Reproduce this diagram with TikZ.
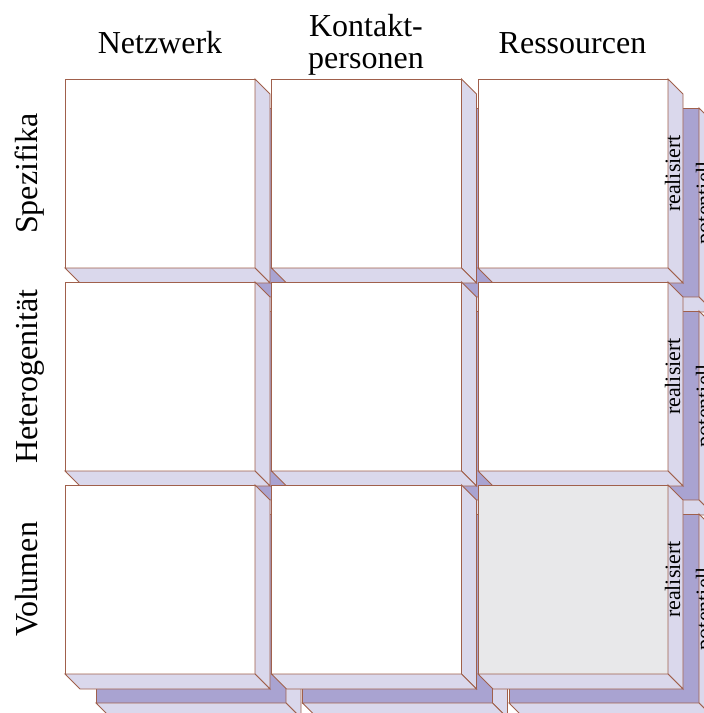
\documentclass[tikz,border=0pt]{standalone}
\usepackage{fontspec}
\setmainfont{Liberation Serif}

\definecolor{edge}{HTML}{A0604C}
\definecolor{sidefc}{HTML}{DAD8EC}
\definecolor{backfc}{HTML}{A9A3D1}
\definecolor{greyfc}{HTML}{E8E8EA}

\tikzset{
  edgeline/.style={draw=edge, line width=0.9pt, line join=miter},
  sideface/.style={edgeline, fill=sidefc},
  head/.style={font=\fontsize{32}{32}\selectfont, inner sep=0pt, anchor=base},
  rowhead/.style={head, rotate=90},
  layerlabel/.style={font=\fontsize{22}{22}\selectfont, inner sep=0pt, anchor=base, rotate=90},
}

% One slab: front face as a named node, right and bottom faces drawn from its anchors.
% #1 name, #2 left x, #3 top y, #4 fill of the front face
\newcommand{\slab}[4]{%
  \node[edgeline, fill=#4, rectangle, minimum width=190pt, minimum height=189pt,
        inner sep=0pt, outer sep=0pt, anchor=north west] (#1) at (#2,#3) {};
  \draw[sideface] (#1.north east) -- ++(15,15) -- ++(0,189) -- (#1.south east) -- cycle;
  \draw[sideface] (#1.south west) -- ++(15,15) -- ++(190,0) -- (#1.south east) -- cycle;
}

\begin{document}
\begin{tikzpicture}[x=1pt, y=-1pt]
  \useasboundingbox (0,0) rectangle (704,713);
  \clip (0,0) rectangle (704,713);

  % rear layer (potentiell)
  \slab{b00}{96}{108}{backfc}
  \slab{b10}{302.5}{108}{backfc}
  \slab{b20}{509}{108}{backfc}
  \slab{b01}{96}{311}{backfc}
  \slab{b11}{302.5}{311}{backfc}
  \slab{b21}{509}{311}{backfc}
  \slab{b02}{96}{514}{backfc}
  \slab{b12}{302.5}{514}{backfc}
  \slab{b22}{509}{514}{backfc}

  % labels on the rear layer
  \node[layerlabel] (pot0) at (711, 202.5) {potentiell};
  \node[layerlabel] (pot1) at (711, 405.5) {potentiell};
  \node[layerlabel] (pot2) at (711, 608.5) {potentiell};

  % front layer (realisiert)
  \slab{f00}{65}{79}{white}
  \slab{f10}{271.5}{79}{white}
  \slab{f20}{478}{79}{white}
  \slab{f01}{65}{282}{white}
  \slab{f11}{271.5}{282}{white}
  \slab{f21}{478}{282}{white}
  \slab{f02}{65}{485}{white}
  \slab{f12}{271.5}{485}{white}
  \slab{f22}{478}{485}{greyfc}

  % labels on the front layer
  \node[layerlabel] (real0) at (680, 173.5) {realisiert};
  \node[layerlabel] (real1) at (680, 376.5) {realisiert};
  \node[layerlabel] (real2) at (680, 579.5) {realisiert};

  % column headings
  \node[head] (netz) at (160, 53) {Netzwerk};
  \node[head] (kont) at (366, 36) {Kontakt-};
  \node[head] (pers) at (366, 68) {personen};
  \node[head] (ress) at (572.5, 53) {Ressourcen};

  % row headings
  \node[rowhead] (spez) at (37, 173.5) {Spezifika};
  \node[rowhead] (hete) at (37, 376.5) {Heterogenität};
  \node[rowhead] (volu) at (37, 579.5) {Volumen};
\end{tikzpicture}
\end{document}
